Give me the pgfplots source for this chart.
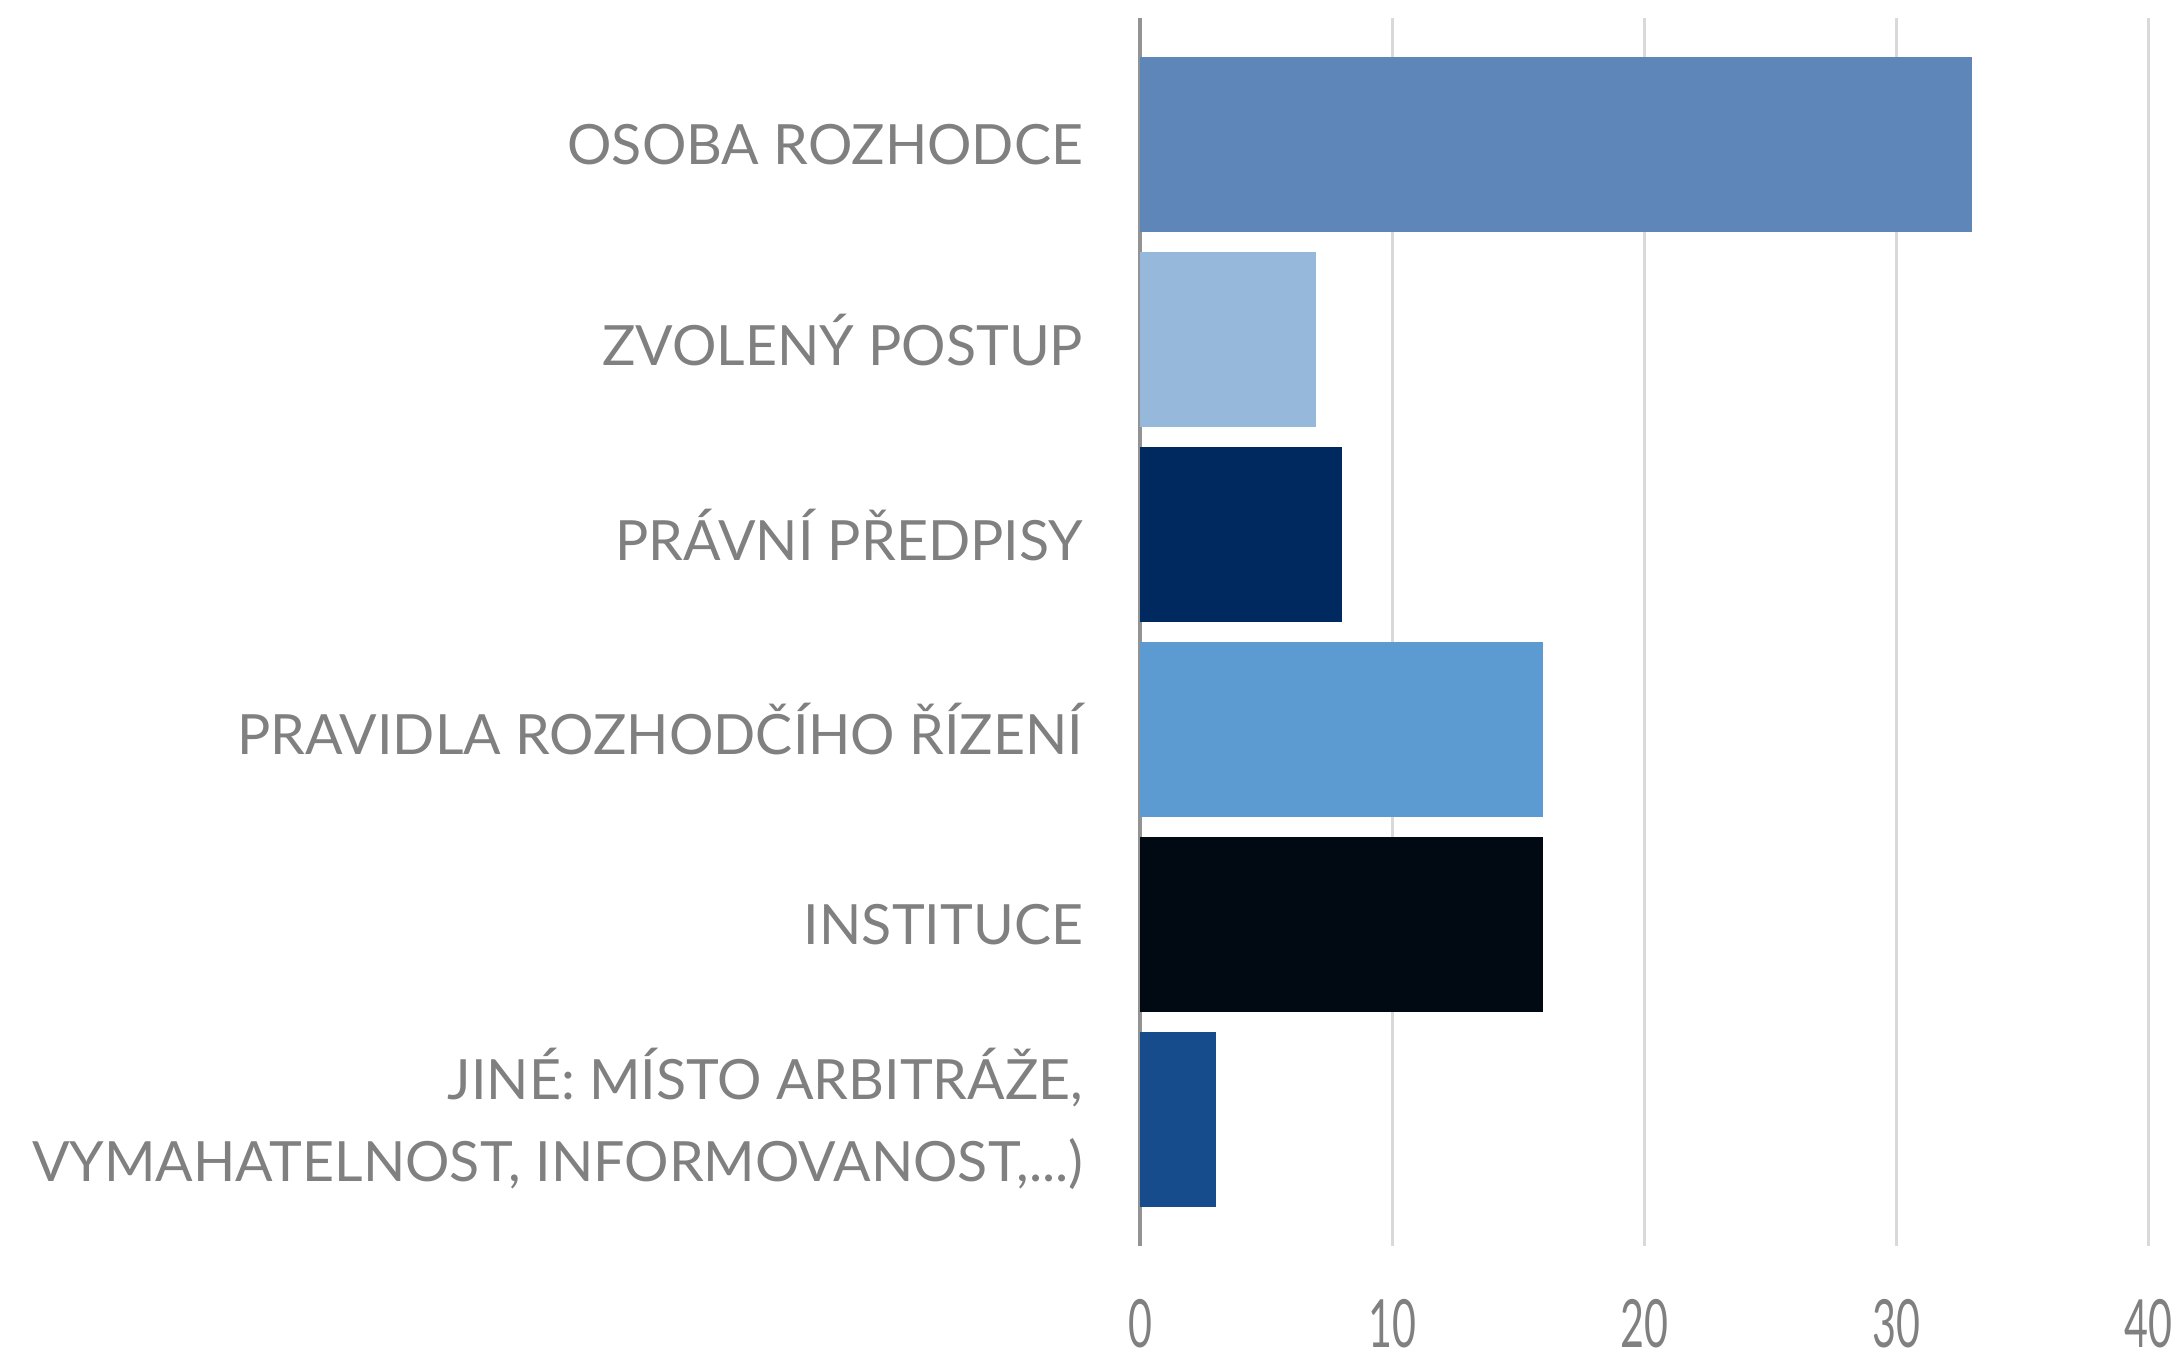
\documentclass[border=0pt]{standalone}
\usepackage{fontspec}
\setmainfont{Lato}
\newfontfamily\condfont[FakeStretch=0.62]{Lato}
\usepackage{pgfplots}
\pgfplotsset{compat=1.18}
\definecolor{c1}{HTML}{5E86B8}
\definecolor{c2}{HTML}{96B8DA}
\definecolor{c3}{HTML}{002A5F}
\definecolor{c4}{HTML}{5B9BD2}
\definecolor{c5}{HTML}{010A12}
\definecolor{c6}{HTML}{164B8C}
\definecolor{txt}{HTML}{808080}
\definecolor{gridc}{HTML}{D9D9D9}
\newcommand\lastlabel{JINÉ: MÍSTO ARBITRÁŽE,\\VYMAHATELNOST, INFORMOVANOST,.\kern0pt.\kern0pt.)}
\begin{document}
\begin{tikzpicture}
\useasboundingbox (0,0) rectangle (436.6bp,271bp);
\begin{axis}[
  at={(228bp,21.8bp)}, anchor=south west,
  scale only axis, width=201.6bp, height=245.6bp,
  xbar, bar width=0.9, bar shift=0pt,
  xmin=0, xmax=40, ymin=-0.65, ymax=5.65, y dir=reverse,
  xtick={0,10,20,30,40},
  ytick={0,1,2,3,4,5},
  yticklabels={OSOBA ROZHODCE, ZVOLENÝ POSTUP, PRÁVNÍ PŘEDPISY, PRAVIDLA ROZHODČÍHO ŘÍZENÍ, INSTITUCE, \lastlabel},
  yticklabel style={align=right, anchor=east, inner sep=0pt, xshift=-11.2bp, font=\fontsize{11.1bp}{16.4bp}\selectfont, text=txt},
  xticklabel style={anchor=center, inner sep=0pt, yshift=-15.6bp, font=\fontsize{13.3bp}{14bp}\condfont, text=txt},
  /pgf/number format/assume math mode=true,
  major tick length=0pt,
  xmajorgrids=true, ymajorgrids=false, major grid style={draw=gridc, line width=0.6bp},
  axis x line*=bottom, x axis line style={draw=none},
  axis y line*=left, y axis line style={draw=gray!85, line width=0.8bp},
  clip=false,
]
\addplot[fill=c1, draw=none] coordinates {(33,0)};
\addplot[fill=c2, draw=none] coordinates {(7,1)};
\addplot[fill=c3, draw=none] coordinates {(8,2)};
\addplot[fill=c4, draw=none] coordinates {(16,3)};
\addplot[fill=c5, draw=none] coordinates {(16,4)};
\addplot[fill=c6, draw=none] coordinates {(3,5)};
\end{axis}
\end{tikzpicture}
\end{document}
